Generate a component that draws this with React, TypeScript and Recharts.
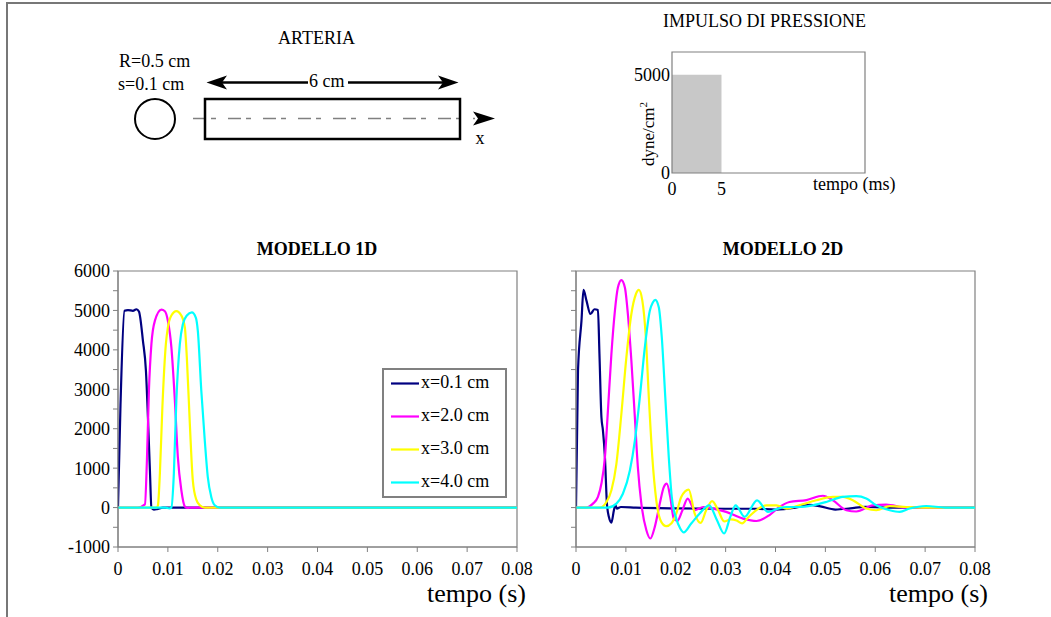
import React from 'react';
import { LineChart, Line, XAxis, YAxis, ReferenceArea, Legend, AreaChart, Area } from 'recharts';

const FONT = "'Liberation Serif', 'Times New Roman', serif";
const AXIS_GRAY = '#808080';

// ---- axis ticks ----
const timeTicks = [0, 0.01, 0.02, 0.03, 0.04, 0.05, 0.06, 0.07, 0.08];
const pressureTicks = [-1000, -500, 0, 500, 1000, 1500, 2000, 2500, 3000, 3500, 4000, 4500, 5000, 5500, 6000];
const impulseTimeTicks = [0, 5];
const impulsePressureTicks = [0, 5000];

// ---- series ----
const seriesNames = ['x=0.1 cm', 'x=2.0 cm', 'x=3.0 cm', 'x=4.0 cm'];
const seriesColors = ['#000080', '#FF00FF', '#FFFF00', '#00FFFF'];

// ---- impulse (ms, dyne/cm2) ----
const impulseTime = [0, 5];
const impulsePressure = [5000, 5000];

// ---- MODELLO 1D ----
const t1d_a = [0, 0.0005, 0.0013, 0.002, 0.003, 0.0037, 0.0042, 0.005, 0.0056, 0.006, 0.0064, 0.0067, 0.0072, 0.0078, 0.009, 0.08];
const p1d_a = [0, 2600, 4990, 5010, 4990, 5030, 4970, 4230, 3470, 2290, 940, 0, -50, -40, 0, 0];

const t1d_b = [0, 0.004, 0.0054, 0.0058, 0.0062, 0.0067, 0.0074, 0.0087, 0.0094, 0.01, 0.0107, 0.0114, 0.012, 0.0127, 0.0134, 0.014, 0.0145, 0.08];
const p1d_b = [0, 0, 80, 1200, 2970, 4150, 4740, 5020, 4980, 4740, 4070, 2720, 1280, 440, 30, -10, 0, 0];

const t1d_c = [0, 0.0078, 0.008, 0.0084, 0.0089, 0.0096, 0.01, 0.0107, 0.0117, 0.0127, 0.0134, 0.0138, 0.0144, 0.015, 0.0157, 0.0164, 0.0174, 0.08];
const p1d_c = [0, 0, 50, 870, 2550, 4150, 4570, 4870, 4980, 4870, 4570, 3810, 2130, 690, 200, 60, 0, 0];

const t1d_d = [0, 0.0095, 0.0103, 0.0107, 0.0112, 0.0117, 0.0124, 0.013, 0.0138, 0.0148, 0.0156, 0.016, 0.0167, 0.0174, 0.018, 0.0187, 0.0194, 0.0204, 0.08];
const p1d_d = [0, 0, -20, 0, 860, 2720, 4150, 4650, 4870, 4950, 4820, 4490, 2970, 1700, 780, 270, 60, 0, 0];

// ---- MODELLO 2D ----
const t2d_a = [0, 0.0004, 0.0011, 0.0015, 0.0021, 0.0029, 0.0037, 0.0044, 0.0047, 0.0051, 0.0054, 0.0058, 0.0062, 0.0066, 0.0071, 0.0076, 0.0079, 0.0082, 0.009, 0.012, 0.02, 0.03, 0.036, 0.04, 0.044, 0.0468, 0.049, 0.052, 0.055, 0.058, 0.062, 0.07, 0.08];
const p2d_a = [0, 3470, 4740, 5520, 5250, 4910, 5030, 5010, 3900, 2290, 1960, 1280, 100, -240, -380, -70, 60, -25, 15, 0, -20, -30, -30, -50, 0, 70, 30, -50, -20, 20, 0, 0, 0];

const t2d_b = [0, 0.002, 0.0034, 0.0044, 0.0051, 0.0058, 0.0064, 0.0071, 0.0078, 0.0084, 0.0091, 0.0098, 0.0104, 0.0111, 0.0118, 0.0124, 0.0131, 0.0141, 0.0149, 0.0158, 0.0168, 0.0176, 0.0182, 0.0189, 0.0196, 0.0203, 0.0213, 0.0224, 0.0238, 0.0255, 0.0275, 0.0301, 0.0335, 0.0362, 0.0388, 0.0408, 0.0428, 0.0462, 0.0495, 0.0515, 0.0542, 0.0562, 0.0595, 0.0622, 0.0662, 0.07, 0.08];
const p2d_b = [0, 0, 100, 270, 610, 1280, 2460, 3900, 4990, 5580, 5770, 5580, 4910, 3730, 2290, 1030, 100, -570, -785, -490, 100, 520, 607, 270, -280, -340, -80, 228, -68, 15, -25, -110, -280, -340, -190, 15, 142, 190, 300, 184, -68, -100, 58, 75, 0, 0, 0];

const t2d_c = [0, 0.0048, 0.0061, 0.0071, 0.0081, 0.0091, 0.0101, 0.0111, 0.012, 0.0126, 0.0133, 0.014, 0.0146, 0.0153, 0.0161, 0.0171, 0.0181, 0.0191, 0.0201, 0.0211, 0.0226, 0.0238, 0.025, 0.0261, 0.0273, 0.0285, 0.0297, 0.031, 0.0322, 0.0333, 0.0345, 0.0358, 0.0382, 0.0402, 0.0422, 0.0448, 0.0482, 0.0515, 0.0535, 0.0555, 0.0582, 0.0602, 0.0629, 0.0662, 0.07, 0.08];
const p2d_c = [0, 0, 140, 440, 1110, 2380, 3810, 4910, 5410, 5520, 5250, 4320, 2800, 1280, 184, -364, -473, -405, -152, 270, 455, -152, -390, -68, 165, -68, -350, -300, -330, -400, -250, -100, 58, 58, -25, 58, 185, 270, 270, 185, -25, -68, 35, 15, 0, 0];

const t2d_d = [0, 0.0064, 0.0081, 0.0094, 0.0108, 0.0118, 0.0128, 0.0138, 0.0148, 0.0154, 0.0159, 0.0166, 0.0172, 0.0179, 0.0186, 0.0192, 0.0201, 0.0209, 0.0216, 0.0231, 0.0248, 0.0267, 0.0282, 0.0297, 0.0309, 0.032, 0.0338, 0.0363, 0.0385, 0.0404, 0.0422, 0.0448, 0.0475, 0.0502, 0.0535, 0.0562, 0.0582, 0.0602, 0.0629, 0.0649, 0.0669, 0.0702, 0.074, 0.08];
const p2d_d = [0, 0, 100, 350, 940, 1700, 2800, 4060, 4990, 5200, 5270, 5080, 4320, 2800, 1280, 270, -280, -530, -630, -405, -150, 58, -300, -658, -250, 58, -236, 185, -110, -30, 15, 15, 58, 142, 270, 290, 230, 58, -68, -110, -25, 40, 0, 0];

const zip = (t: number[], p: number[]) => t.map((v, i) => ({ t: v, p: p[i] }));

const series1D = [zip(t1d_a, p1d_a), zip(t1d_b, p1d_b), zip(t1d_c, p1d_c), zip(t1d_d, p1d_d)];
const series2D = [zip(t2d_a, p2d_a), zip(t2d_b, p2d_b), zip(t2d_c, p2d_c), zip(t2d_d, p2d_d)];
const impulseData = zip(impulseTime, impulsePressure);

const tickStyle = { fill: '#000', fontSize: 18, fontFamily: FONT };

const LegendBox = () => (
  <svg width={125} height={130} style={{ display: 'block' }}>
    <rect x={1} y={1} width={123} height={128} fill="#fff" stroke={AXIS_GRAY} strokeWidth={2} />
    {seriesNames.map((n, i) => {
      const y = 15.5 + i * 33;
      return (
        <g key={n}>
          <line x1={9} x2={37} y1={y} y2={y} stroke={seriesColors[i]} strokeWidth={2.2} />
          <text x={39} y={y + 4} fontSize={18} fontFamily={FONT} fill="#000">{n}</text>
        </g>
      );
    })}
  </svg>
);

type PCProps = { data: { t: number; p: number }[][]; labels: boolean; legend: boolean; marginLeft: number; marginRight: number };

const PressureChart = ({ data, labels, legend, marginLeft, marginRight }: PCProps) => (
  <LineChart width={500} height={320} margin={{ top: 10, right: marginRight, bottom: 4, left: marginLeft }}>
    <XAxis
      type="number"
      dataKey="t"
      domain={[0, 0.08]}
      ticks={timeTicks}
      interval={0}
      allowDataOverflow
      stroke={AXIS_GRAY}
      tickLine={{ stroke: AXIS_GRAY }}
      tickSize={5}
      tickMargin={10}
      height={30}
      tick={tickStyle}
      tickFormatter={(v: number) => (v === 0 ? '0' : v.toFixed(2))}
    />
    <YAxis
      type="number"
      domain={[-1000, 6000]}
      ticks={pressureTicks}
      interval={0}
      allowDataOverflow
      width={60}
      stroke={AXIS_GRAY}
      tickLine={{ stroke: AXIS_GRAY }}
      tickSize={5}
      tickMargin={3}
      tick={tickStyle}
      tickFormatter={(v: number) => (labels && v % 1000 === 0 ? String(v) : '')}
    />
    <ReferenceArea x1={0} x2={0.08} y1={-1000} y2={6000} fill="none" stroke={AXIS_GRAY} strokeWidth={1.2} />
    {data.map((d, i) => (
      <Line
        key={seriesNames[i]}
        name={seriesNames[i]}
        data={d}
        dataKey="p"
        type="monotone"
        stroke={seriesColors[i]}
        strokeWidth={2.2}
        dot={false}
        activeDot={false}
        isAnimationActive={false}
      />
    ))}
    {legend && (
      <Legend
        layout="vertical"
        align="center"
        verticalAlign="middle"
        content={<LegendBox />}
        wrapperStyle={{ left: 342, top: 107, width: 125, height: 130, bottom: 'auto', right: 'auto' }}
      />
    )}
  </LineChart>
);

const ImpulseChart = () => (
  <AreaChart width={300} height={170} data={impulseData} margin={{ top: 12, right: 35, bottom: 7, left: 22 }}>
    <XAxis
      type="number"
      dataKey="t"
      domain={[0, 19.5]}
      ticks={impulseTimeTicks}
      interval={0}
      allowDataOverflow
      axisLine={false}
      tickLine={false}
      tickSize={0}
      tickMargin={9}
      height={30}
      tick={tickStyle}
    />
    <YAxis
      type="number"
      domain={[0, 6150]}
      ticks={impulsePressureTicks}
      interval={0}
      allowDataOverflow
      axisLine={false}
      tickLine={false}
      tickSize={0}
      tickMargin={2}
      width={50}
      tick={tickStyle}
    />
    <Area type="linear" dataKey="p" fill="#C8C8C8" fillOpacity={1} stroke="none" isAnimationActive={false} />
    <ReferenceArea x1={0} x2={19.5} y1={0} y2={6150} fill="none" stroke={AXIS_GRAY} strokeWidth={1.2} />
  </AreaChart>
);

const txt = { fontFamily: FONT, fontSize: 18, fill: '#000' } as const;

const Overlay = () => (
  <svg width={1051} height={617} style={{ position: 'absolute', left: 0, top: 0 }}>
    {/* frame */}
    <line x1={7} y1={2} x2={7} y2={617} stroke="#777" strokeWidth={2} />
    <line x1={6} y1={3} x2={1051} y2={3} stroke="#777" strokeWidth={2} />

    {/* artery schematic */}
    <text x={316.5} y={44} textAnchor="middle" {...txt}>ARTERIA</text>
    <text x={119} y={67} {...txt}>R=0.5 cm</text>
    <text x={118} y={90} {...txt}>s=0.1 cm</text>
    <circle cx={155} cy={119} r={20} fill="none" stroke="#000" strokeWidth={2} />
    <line x1={193} y1={118.5} x2={475} y2={118.5} stroke="#808080" strokeWidth={1.5} strokeDasharray="13 5 5 12" />
    <rect x={205} y={99} width={255} height={40} fill="none" stroke="#000" strokeWidth={2.5} />
    <polygon points="473,111.5 495,118.5 473,125.5 478,118.5" fill="#000" />
    <text x={480} y={144} textAnchor="middle" {...txt}>x</text>
    <line x1={215} y1={82.5} x2={308} y2={82.5} stroke="#000" strokeWidth={2.5} />
    <line x1={348} y1={82.5} x2={450} y2={82.5} stroke="#000" strokeWidth={2.5} />
    <polygon points="206.5,82.5 227,75.5 222,82.5 227,89.5" fill="#000" />
    <polygon points="458.5,82.5 438,75.5 443,82.5 438,89.5" fill="#000" />
    <text x={309} y={87} {...txt}>6 cm</text>

    {/* impulse labels */}
    <text x={764.5} y={27} textAnchor="middle" {...txt}>IMPULSO DI PRESSIONE</text>
    <text x={654} y={134} textAnchor="middle" transform="rotate(-90 654 134)" fontFamily={FONT} fontSize={17} fill="#000">
      dyne/cm<tspan fontSize={11} dy={-7}>2</tspan>
    </text>
    <text x={813} y={190} {...txt}>tempo (ms)</text>

    {/* chart titles */}
    <text x={317} y={255} textAnchor="middle" fontFamily={FONT} fontSize={18} fontWeight="bold" fill="#000">MODELLO 1D</text>
    <text x={783} y={255} textAnchor="middle" fontFamily={FONT} fontSize={18} fontWeight="bold" fill="#000">MODELLO 2D</text>

    {/* axis titles */}
    <text x={526} y={602} textAnchor="end" fontFamily={FONT} fontSize={26} fill="#000">tempo (s)</text>
    <text x={988} y={602} textAnchor="end" fontFamily={FONT} fontSize={26} fill="#000">tempo (s)</text>
  </svg>
);

export default function App() {
  return (
    <div style={{ position: 'absolute', left: 0, top: 0, width: 1051, height: 617, background: '#fff', overflow: 'hidden' }}>
      <Overlay />
      <div style={{ position: 'absolute', left: 600, top: 40 }}>
        <ImpulseChart />
      </div>
      <div style={{ position: 'absolute', left: 40, top: 261 }}>
        <PressureChart data={series1D} labels legend marginLeft={18} marginRight={23} />
      </div>
      <div style={{ position: 'absolute', left: 500, top: 261 }}>
        <PressureChart data={series2D} labels={false} legend={false} marginLeft={16} marginRight={25} />
      </div>
    </div>
  );
}
